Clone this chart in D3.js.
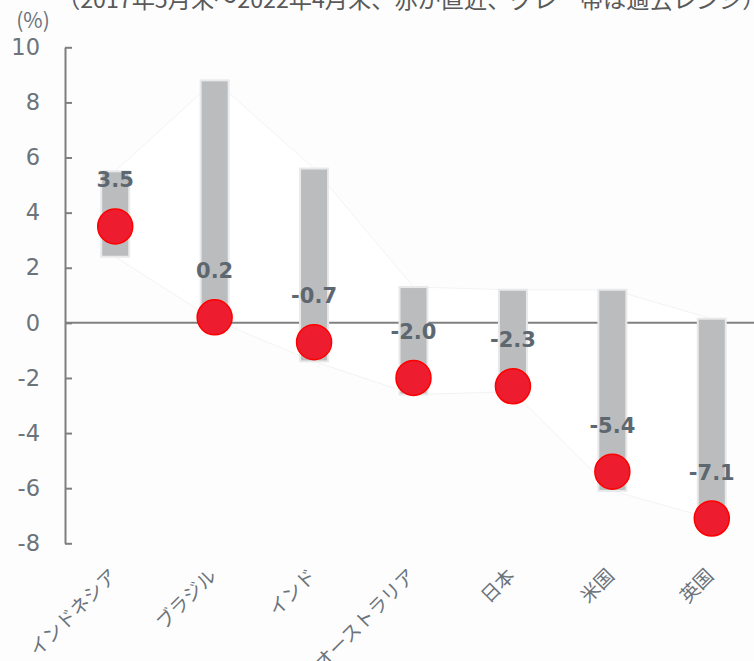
<!DOCTYPE html>
<html><head><meta charset="utf-8">
<script src="https://cdn.jsdelivr.net/npm/d3@7"></script>
<style>
html,body{margin:0;padding:0;background:#ffffff;}
svg{display:block;}
</style></head>
<body>
<script>
const categories = ["インドネシア","ブラジル","インド","オーストラリア","日本","米国","英国"];
const latest = [3.5, 0.2, -0.7, -2.0, -2.3, -5.4, -7.1];
const rangeHigh = [5.5, 8.8, 5.6, 1.3, 1.2, 1.2, 0.15];
const rangeLow = [2.4, 0.1, -1.4, -2.6, -2.5, -6.1, -7.1];
const yTicks = [-8, -6, -4, -2, 0, 2, 4, 6, 8, 10];
const titleText = "（2017年5月末～2022年4月末、赤が直近、グレー帯は過去レンジ）";
const unitText = "(%)";

const W = 754, H = 661;
const loc = d3.formatLocale({decimal: ".", thousands: ",", grouping: [3], currency: ["", ""], minus: "-"});
const fmt1 = loc.format(".1f"), fmt0 = loc.format("d");

const svg = d3.select("body").append("svg").attr("width", W).attr("height", H);
svg.append("rect").attr("width", W).attr("height", H).attr("fill", "#fdfdfd");

const x = d3.scaleBand().domain(categories).range([65.5, 761.5]).padding(0);
const y = d3.scaleLinear().domain([-8, 10]).range([543.3, 47.3]);
const cx = c => x(c) + x.bandwidth() / 2;

const data = categories.map((c, i) => ({c, v: latest[i], hi: rangeHigh[i], lo: rangeLow[i]}));

// faint range envelope
const area = d3.area().x(d => cx(d.c)).y0(d => y(d.lo)).y1(d => y(d.hi));
svg.append("path").datum(data).attr("d", area).attr("fill", "#ffffff")
  .attr("stroke", "#f3f3f3").attr("stroke-width", 1);

// title (clipped at top)
svg.append("text").attr("x", 57).attr("y", 8)
  .attr("font-family", "'Noto Sans CJK JP', sans-serif").attr("font-size", 23.2)
  .attr("fill", "#595959").text(titleText);
svg.append("text").attr("x", 33).attr("y", 28).attr("text-anchor", "middle")
  .attr("font-family", "'Noto Sans CJK JP', sans-serif").attr("font-size", 21)
  .attr("fill", "#6b737b").text(unitText);

// zero line
svg.append("line").attr("x1", 65).attr("x2", W).attr("y1", y(0)).attr("y2", y(0))
  .attr("stroke", "#808080").attr("stroke-width", 2);

// y axis
const yAxis = d3.axisLeft(y).tickValues(yTicks).tickSizeInner(-7).tickSizeOuter(0).tickPadding(25)
  .tickFormat(fmt0);
const gy = svg.append("g").attr("transform", "translate(65,0)").call(yAxis);
gy.select(".domain").attr("stroke", "#7f7f7f").attr("stroke-width", 2);
gy.selectAll(".tick line").attr("stroke", "#7f7f7f").attr("stroke-width", 2);
gy.selectAll(".tick text").attr("font-family", "'DejaVu Sans', sans-serif")
  .attr("font-size", 22.5).attr("fill", "#6b737b");

// bars (range)
svg.append("g").selectAll("rect").data(data).join("rect")
  .attr("x", d => cx(d.c) - 14).attr("width", 28)
  .attr("y", d => y(d.hi)).attr("height", d => y(d.lo) - y(d.hi))
  .attr("fill", "#bbbcbe").attr("stroke", "#e8e9ea").attr("stroke-width", 2);

// dots
svg.append("g").selectAll("circle").data(data).join("circle")
  .attr("cx", d => cx(d.c)).attr("cy", d => y(d.v)).attr("r", 17.5)
  .attr("fill", "#ed1c2e").attr("stroke", "#ff0000").attr("stroke-width", 1.5);

// value labels
svg.append("g").selectAll("text").data(data).join("text")
  .attr("x", d => cx(d.c)).attr("y", d => y(d.v) - 39).attr("text-anchor", "middle")
  .attr("font-family", "'DejaVu Sans', sans-serif").attr("font-weight", "bold")
  .attr("font-size", 21).attr("fill", "#5d6770").text(d => fmt1(d.v));

// category labels
svg.append("g").selectAll("text").data(data).join("text")
  .attr("transform", d => `translate(${cx(d.c) + 3},${577}) rotate(-45)`)
  .attr("text-anchor", "end")
  .attr("font-family", "'Noto Sans CJK JP', sans-serif").attr("font-size", 19)
  .attr("fill", "#6b737b").text(d => d.c);
</script>
</body></html>
